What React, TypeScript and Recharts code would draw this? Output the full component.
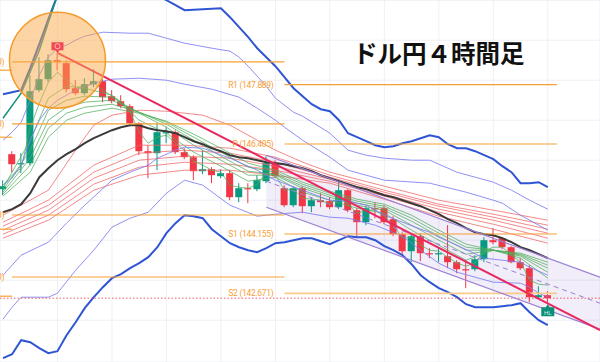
import {
  ComposedChart,
  Bar,
  Line,
  Area,
  XAxis,
  YAxis,
  CartesianGrid,
  ReferenceLine,
  ReferenceDot,
} from "recharts";

// 4時間足 OHLC（index 0..60）
const opens = [
  145.275, 146.15, 145.9, 145.925, 147.75, 148.025, 148.5, 148.425, 147.8, 147.675,
  147.9, 147.975, 147.6, 147.475, 147.35, 146.925, 146.225, 146.175, 146.675, 146.7,
  146.2, 146.075, 145.725, 145.775, 145.6, 145.675, 145.075, 145.3, 145.275, 145.475,
  145.925, 145.3, 144.875, 145.3, 144.85, 145.0, 144.975, 144.825, 145.25, 144.75,
  144.45, 144.8, 144.8, 144.525, 144.15, 143.725, 144.1, 143.675, 143.65, 143.6,
  143.45, 143.275, 143.275, 143.525, 144.0, 144.05, 143.825, 143.45, 143.3, 142.575,
  142.625,
];
const closes = [
  145.35, 145.9, 145.925, 147.725, 148.025, 148.5, 148.45, 147.775, 147.675, 147.9,
  147.975, 147.575, 147.475, 147.35, 146.925, 146.225, 146.175, 146.7, 146.7, 146.2,
  146.075, 145.725, 145.775, 145.625, 145.675, 145.075, 145.3, 145.275, 145.5, 145.925,
  145.6, 144.875, 145.3, 144.85, 145.0, 144.95, 144.825, 145.25, 144.75, 144.45,
  144.8, 144.775, 144.45, 144.15, 143.725, 144.1, 143.675, 143.65, 143.675, 143.45,
  143.275, 143.25, 143.525, 144.0, 143.95, 143.825, 143.45, 143.3, 142.575, 142.625,
  142.55,
];
const highs = [
  145.5, 146.225, 146.175, 148.125, 148.575, 148.65, 148.675, 148.5, 148.0, 148.05,
  148.275, 148.025, 147.75, 147.625, 147.4, 146.95, 146.375, 146.925, 146.825, 146.75,
  146.3, 146.125, 146.25, 145.825, 145.775, 145.75, 145.425, 145.425, 145.625, 146.1,
  146.0, 145.375, 145.35, 145.35, 145.075, 145.175, 145.075, 145.5, 145.275, 144.8,
  144.85, 144.95, 144.875, 144.6, 144.2, 144.15, 144.175, 143.8, 143.8, 144.375,
  143.5, 143.5, 143.625, 144.075, 144.3, 144.075, 143.85, 143.55, 143.375, 142.85,
  142.725,
];
const lows = [
  145.125, 145.7, 145.675, 145.875, 147.7, 147.95, 148.25, 147.7, 147.625, 147.625,
  147.825, 147.45, 147.425, 147.3, 146.875, 146.125, 145.55, 145.75, 146.425, 146.15,
  146.025, 145.5, 145.65, 145.425, 145.55, 145.0, 144.95, 144.925, 145.225, 145.425,
  145.55, 144.825, 144.825, 144.675, 144.7, 144.825, 144.775, 144.775, 144.7, 144.075,
  144.375, 144.55, 144.4, 144.1, 143.625, 143.45, 143.475, 143.55, 143.45, 143.3,
  143.175, 142.8, 143.225, 143.45, 143.9, 143.775, 143.425, 143.25, 142.45, 142.55,
  142.45,
];

// 黒線（移動平均）
const maLine = [
  144.7, 144.775, 144.9, 145.175, 145.575, 145.8, 146.0, 146.15, 146.275, 146.425,
  146.55, 146.65, 146.75, 146.825, 146.875, 146.875, 146.8, 146.75, 146.725, 146.675,
  146.575, 146.475, 146.4, 146.3, 146.225, 146.125, 146.075, 146.05, 146.0, 145.95,
  145.925, 145.9, 145.85, 145.8, 145.725, 145.625, 145.55, 145.475, 145.4, 145.325,
  145.275, 145.2, 145.125, 145.075, 145.0, 144.925, 144.85, 144.75, 144.65, 144.525,
  144.425, 144.3, 144.2, 144.15, 144.125, 144.05, 143.95, 143.825, 143.75, 143.65,
  143.55,
];

// ボリンジャーバンド ±3σ（太線）
const bbLower3 = [
  141.05, 141.15, 141.5, 141.45, 141.3, 141.175, 141.225, 141.625, 141.95, 142.3,
  142.575, 142.825, 143.05, 143.15, 143.3, 143.425, 143.575, 143.825, 144.175, 144.425,
  144.625, 144.6, 144.55, 144.275, 144.1, 143.925, 143.825, 143.75, 143.7, 143.8,
  143.925, 143.95, 144.0, 144.05, 144.05, 143.975, 143.9, 144.0, 144.1, 144.075,
  144.075, 144.0, 143.85, 143.75, 143.625, 143.4, 143.125, 142.95, 142.8, 142.7,
  142.575, 142.4, 142.325, 142.325, 142.325, 142.35, 142.375, 142.425, 142.2, 142.0,
  141.875,
];
const bbUpper3: [number, number][] = [
  [0, 147.65], [1, 147.7], [2, 147.75], [3, 148.3], [4, 148.9], [5, 149.525],
  [6, 150.125], [7, 150.35], [8, 150.45], [10, 150.5], [12, 150.45], [14, 150.375],
  [16, 150.25], [18, 150.0], [19, 149.875], [20, 149.75], [22, 149.775], [24, 149.8],
  [25, 149.575], [26, 149.325], [27, 149.075], [28, 148.8], [29, 148.575], [30, 148.35],
  [31, 148.075], [32, 147.8], [33, 147.6], [34, 147.4], [35, 147.275], [36, 147.225],
  [37, 147.0], [38, 146.675], [39, 146.575], [40, 146.475], [41, 146.375], [42, 146.325],
  [43, 146.35], [44, 146.425], [45, 146.475], [46, 146.55], [47, 146.625], [48, 146.575],
  [49, 146.4], [50, 146.3], [51, 146.3], [52, 146.225], [53, 146.125], [54, 146.025],
  [55, 145.85], [56, 145.7], [57, 145.425], [58, 145.425], [59, 145.45], [60, 145.325],
];
// ±2σ, ±1σ（細線）
const bbUpper2: [number, number][] = [
  [0, 146.5], [1, 146.7], [2, 146.95], [3, 147.5], [4, 148.125], [5, 148.575],
  [6, 148.8], [7, 148.875], [8, 149.0], [9, 149.1], [11, 149.2], [14, 149.175],
  [16, 149.175], [18, 149.05], [20, 148.925], [23, 148.8], [25, 148.725], [26, 148.575],
  [27, 148.35], [28, 148.1], [29, 147.85], [30, 147.55], [32, 147.2], [33, 147.1],
  [36, 146.675], [38, 146.25], [40, 146.125], [42, 146.05], [45, 146.0], [47, 146.0],
  [48, 145.9], [50, 145.7], [52, 145.575], [54, 145.45], [56, 145.25], [58, 145.0],
  [60, 144.775],
];
const bbUpper1: [number, number][] = [
  [0, 145.375], [1, 145.55], [2, 145.875], [3, 146.5], [4, 147.0], [5, 147.3],
  [6, 147.5], [8, 147.75], [10, 147.925], [12, 148.025], [15, 148.05], [18, 148.0],
  [20, 147.9], [23, 147.775], [26, 147.575], [28, 147.3], [30, 147.0], [31, 146.825],
  [33, 146.5], [36, 146.075], [38, 145.75], [40, 145.625], [42, 145.5], [47, 145.425],
  [51, 145.2], [54, 145.0], [55, 144.925], [57, 144.625], [60, 144.25],
];
const bbLower1: [number, number][] = [
  [0, 143.125], [2, 143.625], [5, 143.95], [7, 144.425], [9, 144.875], [12, 145.5],
  [14, 145.7], [16, 145.875], [17, 146.05], [19, 146.25], [20, 146.325], [22, 146.3],
  [25, 146.05], [28, 145.75], [30, 145.5], [33, 145.25], [36, 145.0], [38, 144.975],
  [40, 144.875], [42, 144.625], [44, 144.45], [46, 144.275], [47, 144.2], [48, 144.075],
  [50, 143.875], [53, 143.55], [57, 143.45], [58, 143.325], [60, 143.125],
];
const bbLower2: [number, number][] = [
  [0, 142.025], [1, 142.325], [2, 142.575], [5, 142.575], [6, 142.675], [8, 143.25],
  [10, 143.75], [12, 144.325], [14, 144.55], [16, 144.7], [18, 145.175], [20, 145.5],
  [22, 145.375], [25, 144.875], [28, 144.6], [30, 144.65], [33, 144.7], [36, 144.575],
  [38, 144.55], [41, 144.375], [44, 144.1], [46, 143.75], [48, 143.425], [50, 143.2],
  [52, 143.075], [54, 142.95], [57, 142.925], [58, 142.825], [59, 142.675], [60, 142.575],
];
const tealLine: [number, number][] = [
  [0, 147.05], [2, 147.675], [4, 148.75], [5, 149.45], [6, 150.125],
];

// GMMA 短期（緑）
const gmmaShort1 = [
  145.375, 145.625, 145.8, 146.8, 147.425, 147.95, 148.2, 148.0, 147.825, 147.85,
  147.925, 147.75, 147.6, 147.475, 147.2, 146.7, 146.425, 146.575, 146.625, 146.425,
  146.25, 145.975, 145.875, 145.75, 145.7, 145.375, 145.325, 145.3, 145.4, 145.675,
  145.625, 145.25, 145.275, 145.05, 145.025, 145.0, 144.9, 145.075, 144.9, 144.675,
  144.75, 144.75, 144.6, 144.375, 144.05, 144.075, 143.875, 143.75, 143.725, 143.575,
  143.425, 143.35, 143.425, 143.725, 143.825, 143.825, 143.625, 143.45, 143.0, 142.9,
  142.875,
];
const gmmaIdx = [0, 3, 5, 7, 9, 12, 15, 18, 21, 24, 27, 30, 33, 36, 39, 42, 45, 48, 51, 54, 57, 60];
const gmmaShort2 = [145.3, 146.5, 147.55, 147.85, 147.8, 147.625, 147.0, 146.675, 146.2, 145.85, 145.475, 145.575, 145.2, 145.0, 144.8, 144.675, 144.25, 143.875, 143.5, 143.75, 143.55, 143.05];
const gmmaShort3 = [145.25, 146.25, 147.25, 147.5, 147.6, 147.575, 147.175, 146.825, 146.375, 146.0, 145.625, 145.625, 145.3, 145.075, 144.875, 144.75, 144.375, 144.0, 143.65, 143.75, 143.6, 143.2];
const gmmaShort4 = [145.2, 146.05, 147.0, 147.325, 147.45, 147.5, 147.2, 146.9, 146.5, 146.1, 145.725, 145.65, 145.35, 145.125, 144.925, 144.8, 144.475, 144.1, 143.75, 143.75, 143.625, 143.3];
const gmmaShort5 = [145.15, 145.875, 146.8, 147.175, 147.325, 147.4, 147.2, 146.95, 146.575, 146.2, 145.825, 145.7, 145.4, 145.175, 144.975, 144.85, 144.55, 144.175, 143.825, 143.75, 143.65, 143.375];
const gmmaShort6 = [145.1, 145.7, 146.575, 147.0, 147.175, 147.3, 147.175, 146.975, 146.65, 146.3, 145.925, 145.75, 145.45, 145.225, 145.025, 144.9, 144.625, 144.25, 143.9, 143.75, 143.675, 143.45];

// GMMA 長期（赤）
const longIdx = [0, 5, 10, 15, 20, 25, 30, 36, 42, 48, 54, 60];
const gmmaLong1: [number, number][] = [
  [0, 144.625], [5, 145.25], [8, 146.25], [10, 146.875], [12, 147.125], [15, 147.25],
  [18, 147.225], [20, 147.175], [22, 147.125], [25, 146.875], [28, 146.5], [30, 146.25],
  [33, 145.95], [36, 145.7], [42, 145.35], [48, 145.0], [54, 144.75], [60, 144.5],
];
const gmmaLong2 = [144.45, 145.0, 145.875, 146.375, 146.375, 146.3, 146.075, 145.625, 145.25, 144.9, 144.65, 144.375];
const gmmaLong3 = [144.35, 144.875, 145.7, 146.175, 146.25, 146.175, 145.95, 145.575, 145.2, 144.85, 144.575, 144.275];
const gmmaLong4 = [144.25, 144.75, 145.55, 146.0, 146.1, 146.05, 145.85, 145.525, 145.15, 144.775, 144.5, 144.175];
const gmmaLong5 = [144.15, 144.625, 145.4, 145.825, 145.95, 145.9, 145.75, 145.475, 145.1, 144.7, 144.4, 144.05];
const gmmaLong6 = [144.05, 144.5, 145.25, 145.625, 145.75, 145.75, 145.625, 145.425, 145.025, 144.6, 144.275, 143.925];

// ピボット
const pivotPrev = [148.25, 146.575, 144.275, 142.6];
const pivotLeft = [
  { name: "R1 (148.460)", value: 148.46 },
  { name: "P (146.910)", value: 146.91 },
  { name: "S1 (144.630)", value: 144.63 },
  { name: "S2 (143.080)", value: 143.08 },
];
const pivotRight = [
  { name: "R1 (147.889)", value: 147.889 },
  { name: "P (146.405)", value: 146.405 },
  { name: "S1 (144.155)", value: 144.155 },
  { name: "S2 (142.671)", value: 142.671 },
];
const lastPrice = 142.55;

// トレンドライン・チャネル
const trendLine = [{ x: 6.05, y: 148.675 }, { x: 65.75, y: 141.75 }];
const channelX = [29, 65.75];
const channelUpper = [146.125, 143.075];
const channelMid = [145.475, 142.425];
const channelLower = [144.825, 141.775];

const X_MIN = -0.33;
const X_MAX = 65.75;
const Y_MIN = 140.955;
const Y_MAX = 150.005;
const xTicks = [0, 6, 12, 18, 24, 30, 36, 42, 48, 54, 60];
const yTicks = Array.from({ length: 19 }, (_, i) => 141 + i * 0.5);

const UP = "#089981";
const DOWN = "#f23645";
const ORANGE = "#f7a035";

const sparse = (pairs: [number, number][]) => new Map(pairs);
const zipIdx = (idx: number[], vals: number[]) =>
  new Map(idx.map((i, k) => [i, vals[k]] as [number, number]));

const sparseSeries: Record<string, Map<number, number>> = {
  u3: sparse(bbUpper3),
  u2: sparse(bbUpper2),
  u1: sparse(bbUpper1),
  l1: sparse(bbLower1),
  l2: sparse(bbLower2),
  teal: sparse(tealLine),
  s2: zipIdx(gmmaIdx, gmmaShort2),
  s3: zipIdx(gmmaIdx, gmmaShort3),
  s4: zipIdx(gmmaIdx, gmmaShort4),
  s5: zipIdx(gmmaIdx, gmmaShort5),
  s6: zipIdx(gmmaIdx, gmmaShort6),
  r1: sparse(gmmaLong1),
  r2: zipIdx(longIdx, gmmaLong2),
  r3: zipIdx(longIdx, gmmaLong3),
  r4: zipIdx(longIdx, gmmaLong4),
  r5: zipIdx(longIdx, gmmaLong5),
  r6: zipIdx(longIdx, gmmaLong6),
};

type Row = Record<string, any>;
const rows: Row[] = [];
for (let i = 0; i <= 65; i++) {
  const r: Row = { x: i };
  if (i < opens.length) {
    r.o = opens[i];
    r.c = closes[i];
    r.h = highs[i];
    r.l = lows[i];
    r.range = [lows[i], highs[i]];
    r.ma = maLine[i];
    r.l3 = bbLower3[i];
    r.s1 = gmmaShort1[i];
  }
  for (const k of Object.keys(sparseSeries)) {
    const v = sparseSeries[k].get(i);
    if (v !== undefined) r[k] = v;
  }
  if (i === channelX[0]) r.chan = [channelLower[0], channelUpper[0]];
  rows.push(r);
}
rows.push({ x: channelX[1], chan: [channelLower[1], channelUpper[1]] });

function Candle(props: any) {
  const { x, y, width, height, payload } = props;
  if (!payload || payload.o == null) return null;
  const { o, c, h, l } = payload;
  const top = Math.min(y, y + height);
  const span = Math.abs(height);
  const py = (v: number) => top + ((h - v) / (h - l || 1)) * span;
  const color = c >= o ? UP : DOWN;
  const cx = x + width / 2;
  const bTop = py(Math.max(o, c));
  const bH = Math.max(1.2, py(Math.min(o, c)) - bTop);
  return (
    <g>
      <line x1={cx} x2={cx} y1={top} y2={top + span} stroke={color} strokeWidth={1} />
      <rect x={cx - 3.5} y={bTop} width={7} height={bH} fill={color} />
    </g>
  );
}

function HighFlag(props: any) {
  const { cx, cy } = props;
  return (
    <g>
      <path d={`M${cx - 6} ${cy - 11} h12 v8 h-4 l-2 3 l-2 -3 h-4 z`} fill="#ef4a52" />
      <circle cx={cx} cy={cy - 7} r={2.6} fill="none" stroke="#ffd0d3" strokeWidth={0.8} />
    </g>
  );
}

function LowFlag(props: any) {
  const { cx, cy } = props;
  return (
    <g>
      <path d={`M${cx - 6.5} ${cy + 5} h4.5 l2 -3 l2 3 h4.5 v9 h-13 z`} fill="#0b8f76" />
      <text x={cx} y={cy + 12.5} fontSize={6} fill="#cfeee8" textAnchor="middle" fontFamily="Roboto">
        HL
      </text>
    </g>
  );
}

const thinBlue = { stroke: "#7d7df2", strokeWidth: 1, strokeOpacity: 0.85 };
const thickBlue = { stroke: "#2f55d4", strokeWidth: 2 };
const redLine = { stroke: "#f06262", strokeWidth: 1, strokeOpacity: 0.75 };
const greenLine = { stroke: "#4fae5a", strokeWidth: 1, strokeOpacity: 0.75 };
const common = {
  dot: false,
  activeDot: false,
  isAnimationActive: false,
  connectNulls: true,
  type: "linear" as const,
};
const labelStyle = { fill: ORANGE, fontSize: 8.5, letterSpacing: -0.3, fontFamily: "Roboto" };

export default function App() {
  return (
    <div style={{ position: "fixed", left: 0, top: 0, width: 600, height: 362, background: "#fff" }}>
      <ComposedChart
        width={600}
        height={362}
        data={rows}
        margin={{ top: 0, right: 0, bottom: 0, left: 0 }}
      >
        <CartesianGrid stroke="#eef0f4" strokeWidth={1} />
        <XAxis
          dataKey="x"
          type="number"
          domain={[X_MIN, X_MAX]}
          ticks={xTicks}
          allowDataOverflow
          hide
        />
        <YAxis type="number" domain={[Y_MIN, Y_MAX]} ticks={yTicks} allowDataOverflow hide />

        <Area dataKey="chan" fill="#9575cd" fillOpacity={0.13} stroke="none" {...common} />

        <Line dataKey="r1" {...redLine} {...common} />
        <Line dataKey="r2" {...redLine} {...common} />
        <Line dataKey="r3" {...redLine} {...common} />
        <Line dataKey="r4" {...redLine} {...common} />
        <Line dataKey="r5" {...redLine} {...common} />
        <Line dataKey="r6" {...redLine} {...common} />

        <Line dataKey="s6" {...greenLine} {...common} />
        <Line dataKey="s5" {...greenLine} {...common} />
        <Line dataKey="s4" {...greenLine} {...common} />
        <Line dataKey="s3" {...greenLine} {...common} />
        <Line dataKey="s2" {...greenLine} {...common} />
        <Line dataKey="s1" {...greenLine} {...common} />

        <Line dataKey="ma" stroke="#3a3a3a" strokeWidth={2} {...common} />
        <Line dataKey="u2" {...thinBlue} {...common} />
        <Line dataKey="u1" {...thinBlue} {...common} />
        <Line dataKey="l1" {...thinBlue} {...common} />
        <Line dataKey="l2" {...thinBlue} {...common} />
        <Line dataKey="u3" {...thickBlue} {...common} />
        <Line dataKey="l3" {...thickBlue} {...common} />
        <Line dataKey="teal" stroke="#17907c" strokeWidth={1.5} {...common} />

        {pivotPrev.map((v) => (
          <ReferenceLine
            key={`pp${v}`}
            segment={[{ x: X_MIN, y: v }, { x: 1, y: v }]}
            stroke={ORANGE}
            strokeWidth={1.2}
          />
        ))}
        {pivotLeft.map((p) => (
          <ReferenceLine
            key={`pl${p.value}`}
            segment={[{ x: 1, y: p.value }, { x: 31, y: p.value }]}
            stroke={ORANGE}
            strokeWidth={1.2}
            label={{ value: p.name, position: "left", offset: 8, ...labelStyle }}
          />
        ))}
        {pivotRight.map((p, k) => (
          <ReferenceLine
            key={`pr${p.value}`}
            segment={[{ x: 31, y: p.value }, { x: 61, y: p.value }]}
            stroke={k === 3 ? "#fbc98a" : ORANGE}
            strokeWidth={k === 3 ? 1.8 : 1.2}
            label={{ value: p.name, position: "left", offset: 11, ...labelStyle }}
          />
        ))}
        <ReferenceLine y={lastPrice} stroke={DOWN} strokeDasharray="1.5 2" strokeOpacity={0.8} />

        <ReferenceLine
          segment={[{ x: channelX[0], y: channelUpper[0] }, { x: channelX[1], y: channelUpper[1] }]}
          stroke="#9c7fd6"
          strokeWidth={1.2}
        />
        <ReferenceLine
          segment={[{ x: channelX[0], y: channelLower[0] }, { x: channelX[1], y: channelLower[1] }]}
          stroke="#9c7fd6"
          strokeWidth={1.2}
        />
        <ReferenceLine
          segment={[{ x: channelX[0], y: channelMid[0] }, { x: channelX[1], y: channelMid[1] }]}
          stroke="#9c7fd6"
          strokeWidth={1}
          strokeDasharray="5 4"
        />

        <ReferenceDot
          x={6}
          y={148.5}
          r={48}
          fill="#fba94a"
          fillOpacity={0.5}
          stroke="#f59b2a"
          strokeWidth={1.5}
        />

        <Bar dataKey="range" barSize={7} shape={<Candle />} isAnimationActive={false} />

        <ReferenceLine segment={trendLine} stroke="#e8285f" strokeWidth={2} />

        <ReferenceDot x={6} y={highs[6]} r={1} shape={<HighFlag />} />
        <ReferenceDot x={60} y={lows[60]} r={1} shape={<LowFlag />} />
      </ComposedChart>
      <div
        style={{
          position: "absolute",
          left: 353,
          top: 38,
          fontFamily: "'Noto Sans CJK JP', sans-serif",
          fontWeight: 700,
          fontSize: 24.5,
          lineHeight: "30px",
          color: "#111",
          whiteSpace: "nowrap",
        }}
      >
        ドル円４時間足
      </div>
    </div>
  );
}
